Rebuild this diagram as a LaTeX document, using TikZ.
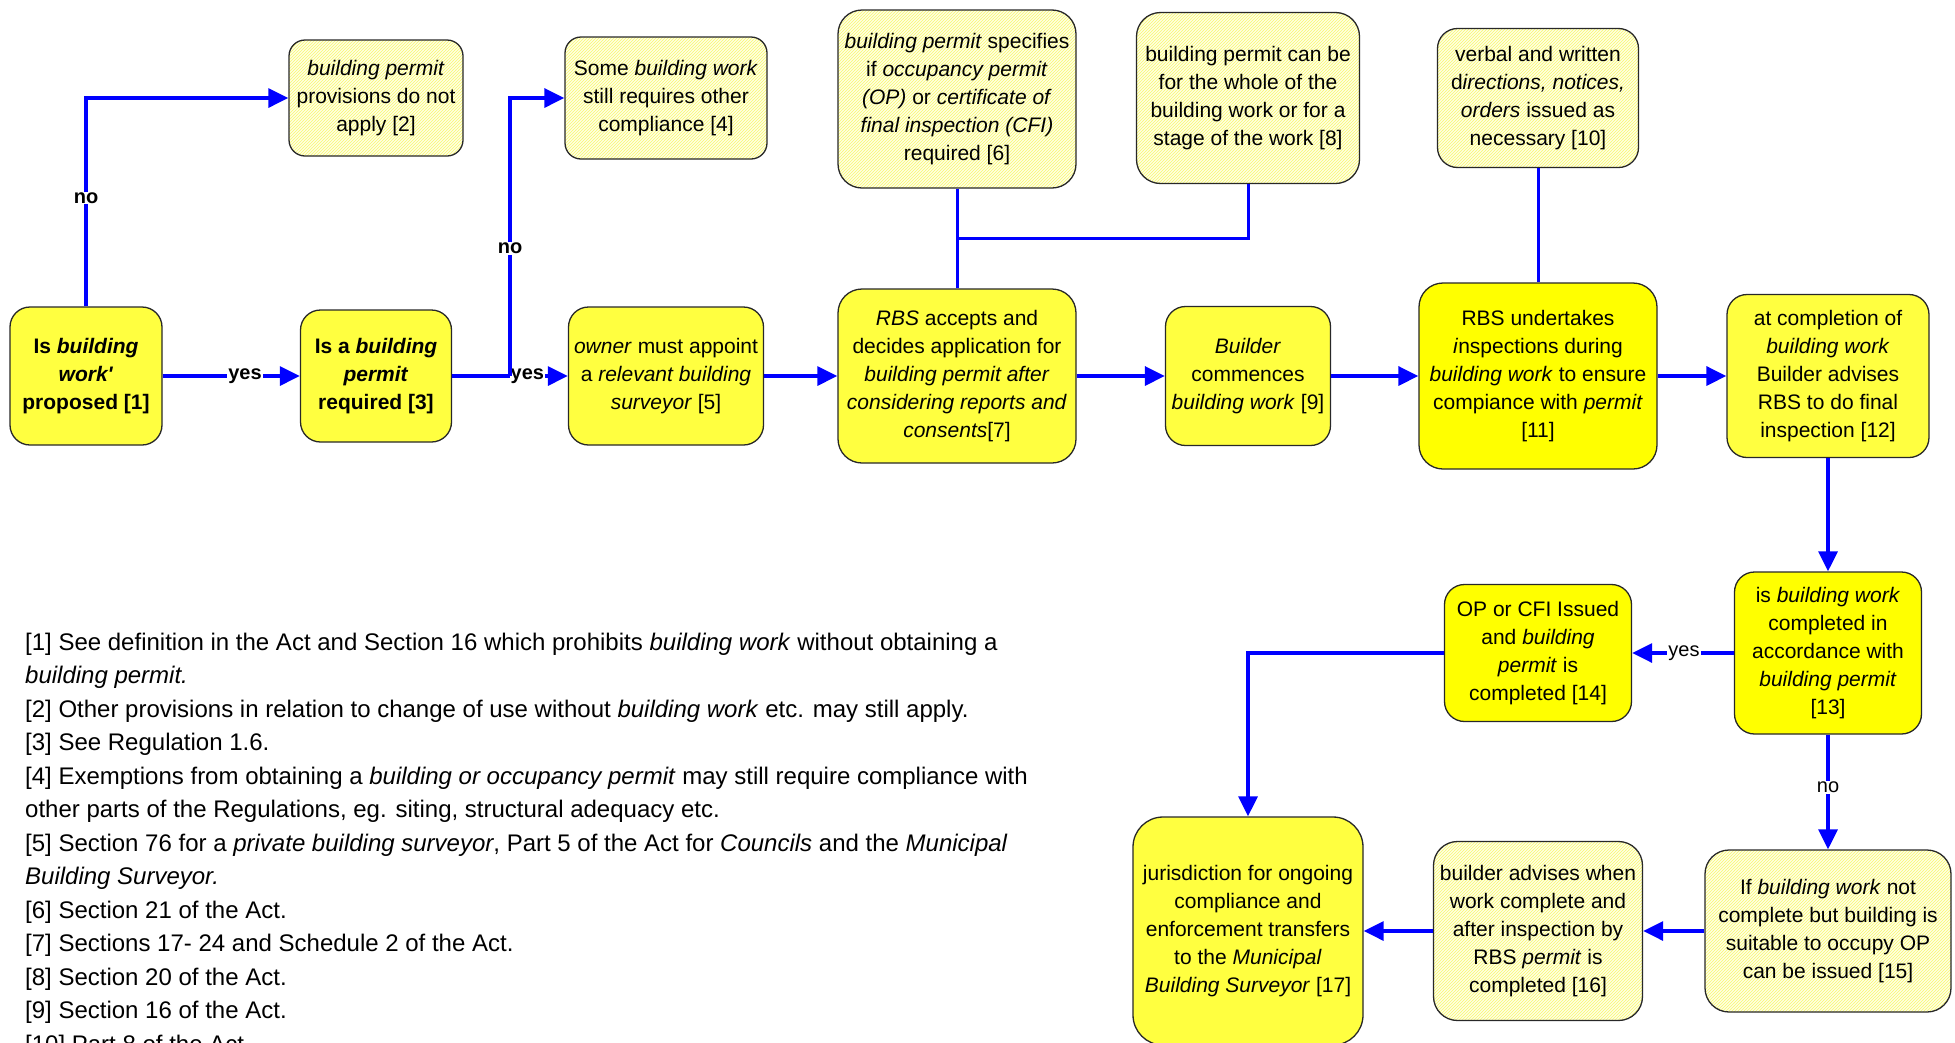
\documentclass[tikz,border=0pt]{standalone}
\usepackage{fontspec}
\setmainfont{Liberation Sans}
\usetikzlibrary{arrows.meta,patterns}

\definecolor{boxyellow}{RGB}{255,255,64}
\definecolor{keyyellow}{RGB}{255,255,0}
\definecolor{paleyellow}{RGB}{255,255,228}
\definecolor{hatchline}{RGB}{248,248,110}
\definecolor{boxline}{RGB}{40,40,40}

\begin{document}
\begin{tikzpicture}[x=1pt, y=-1pt, >={Triangle[length=20pt,width=19pt]},
    every node/.style={font=\fontsize{21}{28}\selectfont, align=center},
    box/.style={draw=boxline, line width=1.3pt, rounded corners=20pt, inner sep=0pt},
    stepbox/.style={box, fill=boxyellow},
    askbox/.style={stepbox, font=\bfseries\fontsize{21}{28}\selectfont},
    keybox/.style={box, fill=keyyellow},
    notebox/.style={box, preaction={fill=paleyellow}, pattern=north east lines, pattern color=hatchline},
    flow/.style={->, blue, line width=3.2pt},
    link/.style={blue, line width=3pt},
    lbl/.style={fill=white, text=black, inner sep=1pt, font=\fontsize{20}{24}\selectfont},
    boldlbl/.style={lbl, font=\bfseries\fontsize{20}{24}\selectfont}]
    \useasboundingbox (0,0) rectangle (1955,1042);
    \clip (0,0) rectangle (1955,1042);

    % Is a permit needed
    \node[askbox, minimum width=152, minimum height=138] (q1) at (86,376) {Is \textit{building}\\\textit{work\textquotesingle}\\proposed [1]};
    \node[notebox, minimum width=174, minimum height=116, rounded corners=16pt] (n2) at (376,98) {\textit{building permit}\\provisions do not\\apply [2]};
    \node[askbox, minimum width=151, minimum height=132] (q3) at (376,376) {Is a \textit{building}\\\textit{permit}\\required [3]};
    \node[notebox, minimum width=202, minimum height=122, rounded corners=16pt] (n4) at (666,98) {Some \textit{building work}\\still requires other\\compliance [4]};
    \node[stepbox, minimum width=195, minimum height=138] (n5) at (666,376) {\textit{owner} must appoint\\a \textit{relevant building}\\\textit{surveyor} [5]};

    % Permit and start of work
    \node[notebox, minimum width=238, minimum height=178, rounded corners=24pt] (n6) at (957,99) {\textit{building permit} specifies\\if \textit{occupancy permit}\\\textit{(OP)} or \textit{certificate of}\\\textit{final inspection (CFI)}\\required [6]};
    \node[stepbox, minimum width=238, minimum height=174, rounded corners=24pt] (n7) at (957,376) {\textit{RBS} accepts and\\decides application for\\\textit{building permit after}\\\textit{considering reports and}\\\textit{consents}[7]};
    \node[notebox, minimum width=223, minimum height=171, rounded corners=24pt] (n8) at (1248,98) {building permit can be\\for the whole of the\\building work or for a\\stage of the work [8]};
    \node[stepbox, minimum width=165, minimum height=139] (n9) at (1248,376) {\textit{Builder}\\commences\\\textit{building work} [9]};

    % Inspections
    \node[notebox, minimum width=201, minimum height=139] (n10) at (1538,98) {verbal and written\\d\textit{irections, notices,}\\\textit{orders} issued as\\necessary [10]};
    \node[keybox, minimum width=238, minimum height=186, rounded corners=24pt] (n11) at (1538,376) {RBS undertakes\\\textit{i}nspections during\\\textit{building work} to ensure\\compiance with \textit{permit}\\{[11]}};
    \node[stepbox, minimum width=202, minimum height=163] (n12) at (1828,376) {at completion of\\\textit{building work}\\Builder advises\\RBS to do final\\inspection [12]};

    % Completion
    \node[keybox, minimum width=187, minimum height=162] (q13) at (1828,653) {is \textit{building work}\\completed in\\accordance with\\\textit{building permit}\\{[13]}};
    \node[keybox, minimum width=187, minimum height=137] (n14) at (1538,653) {OP or CFI Issued\\and \textit{building}\\\textit{permit} is\\completed [14]};
    \node[notebox, minimum width=246, minimum height=162, rounded corners=24pt] (n15) at (1828,931) {If \textit{building work} not\\complete but building is\\suitable to occupy OP\\can be issued [15]};
    \node[notebox, minimum width=209, minimum height=179, rounded corners=24pt] (n16) at (1538,931) {builder advises when\\work complete and\\after inspection by\\RBS \textit{permit} is\\completed [16]};
    \node[stepbox, minimum width=230, minimum height=228, rounded corners=30pt] (n17) at (1248,931) {jurisdiction for ongoing\\compliance and\\enforcement transfers\\to the \textit{Municipal}\\\textit{Building Surveyor} [17]};

    % Connectors
    \draw[flow] (q1) -- node[boldlbl, pos=0.6] {yes} (q3);
    \draw[flow] (q1.north) |- node[boldlbl, pos=0.26] {no} (n2.west);
    \coordinate (fork) at (510,376);
    \draw[flow] (q3) -- node[boldlbl, pos=0.65] {yes} (n5);
    \draw[flow] (fork) |- node[boldlbl, pos=0.23] {no} (n4.west);
    \draw[flow] (n5) -- (n7);
    \draw[flow] (n7) -- (n9);
    \draw[flow] (n9) -- (n11);
    \draw[flow] (n11) -- (n12);
    \draw[link] (n6) -- (n7);
    \coordinate (join) at (957,238);
    \draw[link] (n8.south) |- (join);
    \draw[link] (n10) -- (n11);
    \draw[flow] (n12) -- (q13);
    \draw[flow] (q13) -- node[lbl, pos=0.49] {yes} (n14);
    \draw[flow] (q13) -- node[lbl, pos=0.46] {no} (n15);
    \draw[flow] (n14.west) -| (n17.north);
    \draw[flow] (n15) -- (n16);
    \draw[flow] (n16) -- (n17);

    % Footnotes
    \node[anchor=base west, align=left, inner sep=0pt, font=\fontsize{24}{33.5}\selectfont] (notes) at (25,1052) {%
        [1] See definition in the Act and Section 16 which prohibits \textit{building work} without obtaining a\\
        \textit{building permit.}\\
        {[2]} Other provisions in relation to change of use without \textit{building work} etc. may still apply.\\
        {[3]} See Regulation 1.6.\\
        {[4]} Exemptions from obtaining a \textit{building or occupancy permit} may still require compliance with\\
        other parts of the Regulations, eg. siting, structural adequacy etc.\\
        {[5]} Section 76 for a \textit{private building surveyor}, Part 5 of the Act for \textit{Councils} and the \textit{Municipal}\\
        \textit{Building Surveyor.}\\
        {[6]} Section 21 of the Act.\\
        {[7]} Sections 17- 24 and Schedule 2 of the Act.\\
        {[8]} Section 20 of the Act.\\
        {[9]} Section 16 of the Act.\\
        {[10]} Part 8 of the Act.};
\end{tikzpicture}
\end{document}
